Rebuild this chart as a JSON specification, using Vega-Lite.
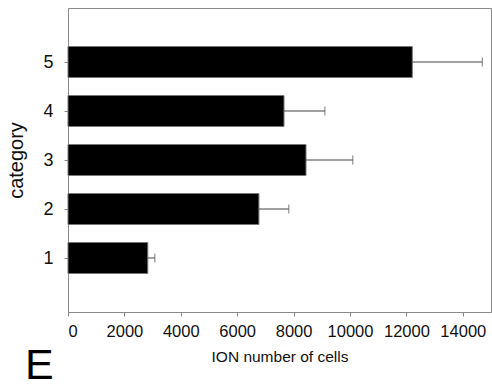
{
  "$schema": "https://vega.github.io/schema/vega-lite/v6.json",
  "autosize": "none",
  "padding": {"left": 68, "top": 8, "right": 1, "bottom": 77},
  "width": 423,
  "height": 304,
  "background": "white",
  "config": {
    "view": {"stroke": "#8a8a8a", "strokeWidth": 1},
    "font": "Liberation Sans",
    "axis": {"domainColor": "#8a8a8a", "tickColor": "#8a8a8a", "labelColor": "#111", "titleColor": "#111", "grid": false, "labelFont": "Liberation Sans", "titleFont": "Liberation Sans", "titleFontWeight": "normal"}
  },
  "title": {"text": "E", "orient": "bottom", "anchor": "start", "frame": "group", "fontSize": 43, "fontWeight": "normal", "font": "Liberation Sans", "color": "#000", "dx": -43, "offset": -20},
  "data": {"values": [
    {"category": 1, "cells": 2830, "upper": 3080},
    {"category": 2, "cells": 6770, "upper": 7830},
    {"category": 3, "cells": 8440, "upper": 10100},
    {"category": 4, "cells": 7660, "upper": 9110},
    {"category": 5, "cells": 12210, "upper": 14690}
  ]},
  "encoding": {
    "y": {"field": "category", "type": "quantitative", "scale": {"domain": [0, 6], "nice": false, "zero": false},
      "axis": {"values": [1, 2, 3, 4, 5], "title": "category", "titleFontSize": 20, "labelFontSize": 18, "tickSize": 4, "labelPadding": 11, "titlePadding": 16}}
  },
  "layer": [
    {
      "mark": {"type": "bar", "orient": "horizontal", "size": 31, "color": "#000", "stroke": "#777", "strokeWidth": 1},
      "encoding": {
        "x": {"field": "cells", "type": "quantitative", "scale": {"domain": [0, 15000], "nice": false},
          "axis": {"values": [0, 2000, 4000, 6000, 8000, 10000, 12000, 14000], "format": "d", "title": "ION number of cells", "titleFontSize": 15.5, "labelFontSize": 16.5, "tickSize": 4, "labelPadding": 7, "titlePadding": 10}}
      }
    },
    {
      "mark": {"type": "rule", "color": "#444", "strokeWidth": 1},
      "encoding": {"x": {"field": "cells", "type": "quantitative"}, "x2": {"field": "upper"}}
    },
    {
      "mark": {"type": "tick", "orient": "vertical", "size": 9, "thickness": 1, "color": "#444"},
      "encoding": {"x": {"field": "upper", "type": "quantitative"}}
    }
  ]
}
